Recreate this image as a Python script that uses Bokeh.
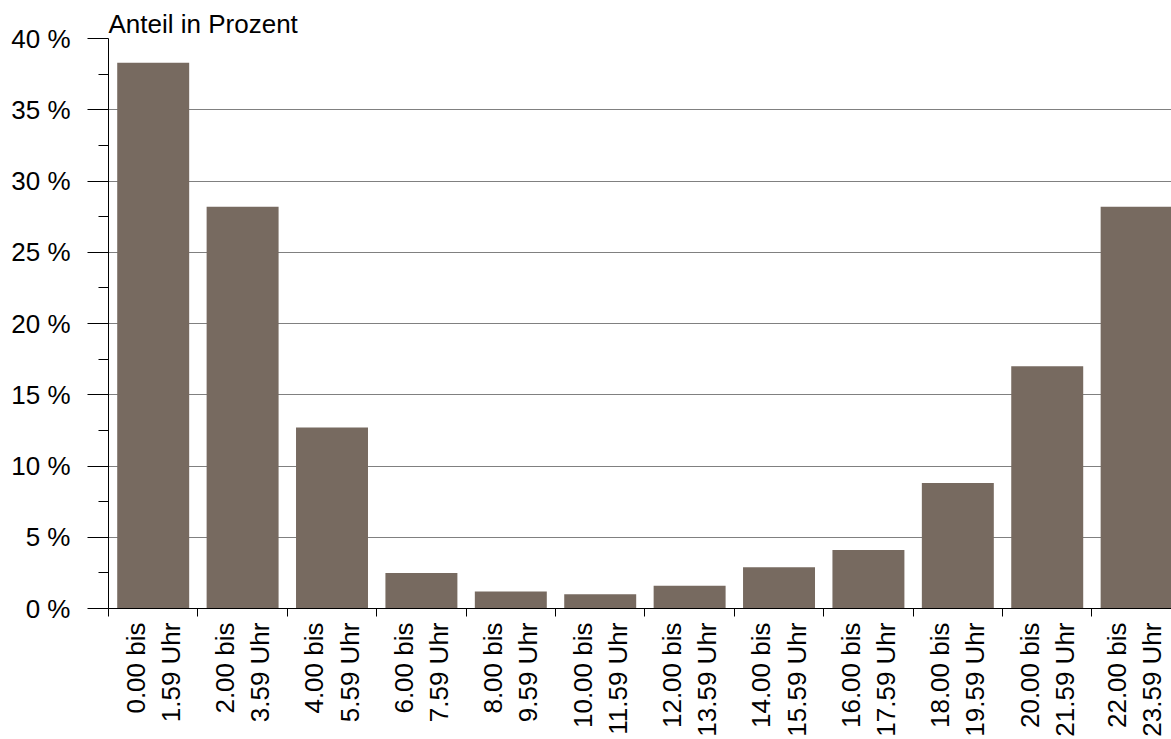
import math
from bokeh.plotting import figure
from bokeh.models import Range1d, FixedTicker, ColumnDataSource
from bokeh.embed import file_html
from bokeh.resources import INLINE

label_line1 = ["0.00 bis", "2.00 bis", "4.00 bis", "6.00 bis", "8.00 bis", "10.00 bis",
               "12.00 bis", "14.00 bis", "16.00 bis", "18.00 bis", "20.00 bis", "22.00 bis"]
label_line2 = ["1.59 Uhr", "3.59 Uhr", "5.59 Uhr", "7.59 Uhr", "9.59 Uhr", "11.59 Uhr",
               "13.59 Uhr", "15.59 Uhr", "17.59 Uhr", "19.59 Uhr", "21.59 Uhr", "23.59 Uhr"]
values = [38.3, 28.2, 12.7, 2.5, 1.2, 1.0, 1.6, 2.9, 4.1, 8.8, 17.0, 28.2]
y_ticks = [0, 5, 10, 15, 20, 25, 30, 35, 40]
y_tick_labels = ["0 %", "5 %", "10 %", "15 %", "20 %", "25 %", "30 %", "35 %", "40 %"]
y_title = "Anteil in Prozent"

FONT = "Liberation Sans"
BAR = "#776a60"
X_END = 11.89

n = len(values)
centers = [i + 0.5 for i in range(n)]
src = ColumnDataSource(dict(x=centers, top=values))

p = figure(width=1171, height=739, frame_width=1063, frame_height=570,
           x_range=Range1d(0, X_END), y_range=Range1d(0, 40),
           output_backend="svg", toolbar_location=None,
           min_border_left=108, min_border_top=38, min_border_right=0, min_border_bottom=0)
p.outline_line_color = None
p.background_fill_color = "white"

p.title.text = y_title
p.title.align = "left"
p.title.offset = 0
p.title.standoff = 0
p.title.text_font = FONT
p.title.text_font_size = "26px"
p.title.text_font_style = "normal"
p.title.text_color = "black"
p.title.text_line_height = 1.0

p.vbar(x="x", top="top", width=0.805, source=src, fill_color=BAR, line_color=None)

# x axis: each category label is two vertical text lines, placed left/right of the centre
d = 0.197
overrides = {}
xt = []
for c, a, b in zip(centers, label_line1, label_line2):
    t2 = min(c + d, X_END - 0.22)
    t1 = t2 - 2 * d
    t1, t2 = round(t1, 4), round(t2, 4)
    xt += [t1, t2]
    overrides[t1] = a
    overrides[t2] = b
p.xaxis.ticker = FixedTicker(ticks=xt, minor_ticks=list(range(0, n + 1)))
p.xaxis.major_label_overrides = overrides
p.xaxis.major_label_orientation = math.pi / 2
p.xaxis.major_tick_out = 0
p.xaxis.major_tick_in = 0
p.xaxis.minor_tick_out = 8
p.xaxis.minor_tick_in = 0
p.xaxis.minor_tick_line_color = "black"
p.xaxis.axis_line_color = "black"
p.xaxis.major_label_text_font = FONT
p.xaxis.major_label_text_font_size = "26px"
p.xaxis.major_label_text_color = "black"
p.xaxis.major_label_standoff = 6
p.xgrid.grid_line_color = None

# y axis
p.yaxis.ticker = FixedTicker(ticks=y_ticks, minor_ticks=[2.5 + 5 * i for i in range(8)])
p.yaxis.major_label_overrides = {t: lab for t, lab in zip(y_ticks, y_tick_labels)}
p.yaxis.major_tick_out = 21
p.yaxis.major_tick_in = 0
p.yaxis.minor_tick_out = 10
p.yaxis.minor_tick_in = 0
p.yaxis.minor_tick_line_color = "black"
p.yaxis.major_tick_line_color = "black"
p.yaxis.axis_line_color = "black"
p.yaxis.major_label_text_font = FONT
p.yaxis.major_label_text_font_size = "26px"
p.yaxis.major_label_text_color = "black"
p.yaxis.major_label_standoff = 17
p.ygrid.grid_line_color = "#808080"
p.ygrid.grid_line_width = 1
p.ygrid.ticker = FixedTicker(ticks=y_ticks)

open("out.html", "w").write(file_html(p, INLINE))
